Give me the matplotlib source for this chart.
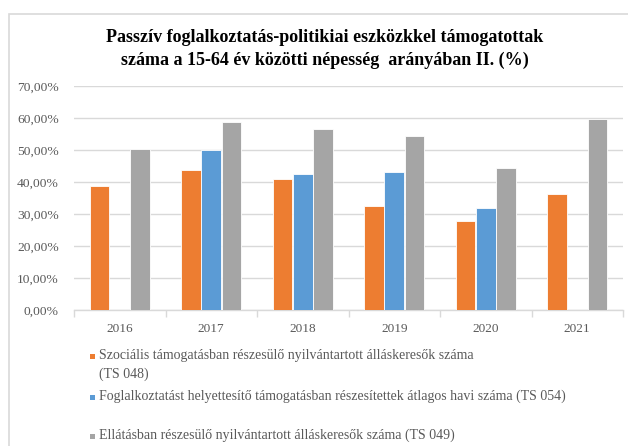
import matplotlib
matplotlib.use("Agg")
import matplotlib.pyplot as plt
from matplotlib.patches import Rectangle
from matplotlib.ticker import FuncFormatter, FixedLocator
import numpy as np

years = ["2016", "2017", "2018", "2019", "2020", "2021"]
ts048 = [38.7, 43.8, 40.9, 32.6, 27.8, 36.3]
ts054 = [np.nan, 50.0, 42.6, 43.1, 31.8, np.nan]
ts049 = [50.3, 58.7, 56.5, 54.5, 44.3, 59.8]
series_labels = [
    "Szociális támogatásban részesülő nyilvántartott álláskeresők száma\n(TS 048)",
    "Foglalkoztatást helyettesítő támogatásban részesítettek átlagos havi száma (TS 054)",
    "Ellátásban részesülő nyilvántartott álláskeresők száma (TS 049)",
]
colors = ["#ED7D31", "#5B9BD5", "#A5A5A5"]
title = "Passzív foglalkoztatás-politikiai eszközkkel támogatottak\nszáma a 15-64 év közötti népesség  arányában II. (%)"

W, H = 628, 446
fig = plt.figure(figsize=(W / 100, H / 100), dpi=100)
plt.rcParams["font.family"] = ["Liberation Serif", "DejaVu Serif"]

def px(x, y):
    return x / W, 1 - y / H

# chart frame
fig.add_artist(Rectangle(px(8.5, 470), (700) / W, (470 - 13.5) / H, transform=fig.transFigure,
                         fill=False, edgecolor="#d9d9d9", linewidth=1.2))

l, b = px(74, 310)
r, t = px(623, 86)
ax = fig.add_axes([l, b, r - l, t - b])

x = np.arange(len(years))
step = 0.222
width = 0.215
for i, (vals, c) in enumerate(zip([ts048, ts054, ts049], colors)):
    ax.bar(x + (i - 1) * step, vals, width=width, color=c, edgecolor="white", linewidth=0.6, zorder=3)

ax.set_xlim(-0.5, len(years) - 0.5)
ax.set_ylim(0, 70)
ax.set_yticks(np.arange(0, 71, 10))
ax.yaxis.set_major_formatter(FuncFormatter(lambda v, p: f"{v:.2f}".replace(".", ",") + "%"))
ax.grid(axis="y", color="#d9d9d9", linewidth=1.0, zorder=0)
for s in ["top", "right", "left"]:
    ax.spines[s].set_visible(False)
ax.spines["bottom"].set_color("#d9d9d9")
ax.spines["bottom"].set_linewidth(1.0)
ax.set_xticks(x)
ax.set_xticklabels(years)
ax.xaxis.set_minor_locator(FixedLocator(np.arange(-0.5, len(years), 1.0)))
ax.tick_params(axis="x", which="major", length=0, pad=9, labelsize=9.5, labelcolor="#595959")
ax.tick_params(axis="x", which="minor", length=5, color="#d9d9d9", width=1.0)
ax.tick_params(axis="y", length=0, pad=11, labelsize=9.7, labelcolor="#595959")

fig.text(*px(325, 49), title, ha="center", va="center", fontsize=13, fontweight="bold",
         color="black", linespacing=1.45)

# legend
rows_y = [356, 397, 436]
for lab, c, yy in zip(series_labels, colors, rows_y):
    fig.add_artist(Rectangle(px(89.5, yy + 2.5), 5 / W, 5 / H, transform=fig.transFigure,
                             facecolor=c, edgecolor="none"))
    fig.text(*px(99, yy - 7), lab, ha="left", va="top", fontsize=10, color="#595959",
             linespacing=1.5)

fig.savefig("out.png", dpi=100)
